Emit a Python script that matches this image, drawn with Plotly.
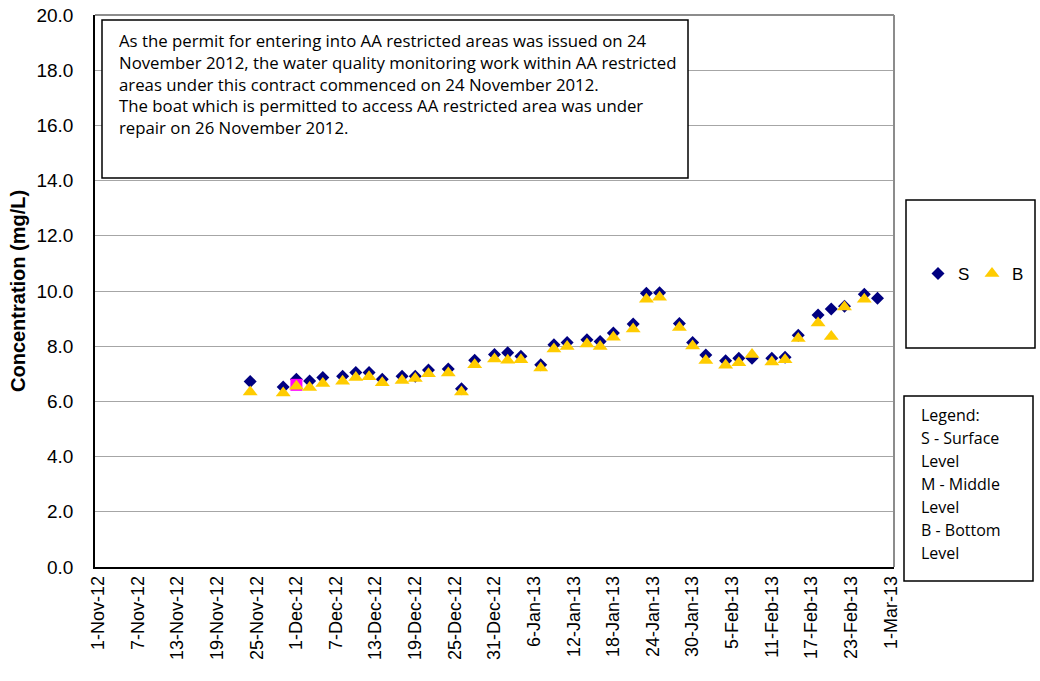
import plotly.graph_objects as go

# ---------------- data ----------------
dates = ["2012-11-24", "2012-11-29", "2012-12-01", "2012-12-03", "2012-12-05",
         "2012-12-08", "2012-12-10", "2012-12-12", "2012-12-14", "2012-12-17",
         "2012-12-19", "2012-12-21", "2012-12-24", "2012-12-26", "2012-12-28",
         "2012-12-31", "2013-01-02", "2013-01-04", "2013-01-07", "2013-01-09",
         "2013-01-11", "2013-01-14", "2013-01-16", "2013-01-18", "2013-01-21",
         "2013-01-23", "2013-01-25", "2013-01-28", "2013-01-30", "2013-02-01",
         "2013-02-04", "2013-02-06", "2013-02-08", "2013-02-11", "2013-02-13",
         "2013-02-15", "2013-02-18", "2013-02-20", "2013-02-22", "2013-02-25",
         "2013-02-27"]
surface = [6.72, 6.52, 6.80, 6.74, 6.87, 6.91, 7.05, 7.05, 6.80, 6.91,
           6.91, 7.14, 7.17, 6.46, 7.49, 7.70, 7.76, 7.64, 7.33, 8.05,
           8.13, 8.23, 8.17, 8.48, 8.80, 9.92, 9.94, 8.82, 8.13, 7.68,
           7.47, 7.56, 7.56, 7.56, 7.60, 8.40, 9.13, 9.35, 9.45, 9.88,
           9.74]
bottom = [6.34, 6.30, 6.55, 6.50, 6.65, 6.73, 6.87, 6.89, 6.68, 6.76,
          6.83, 7.00, 7.03, 6.34, 7.33, 7.54, 7.49, 7.51, 7.21, 7.90,
          7.99, 8.08, 7.99, 8.32, 8.62, 9.70, 9.77, 8.68, 8.01, 7.48,
          7.31, 7.40, 7.70, 7.43, 7.51, 8.28, 8.84, 8.35, 9.42, 9.70,
          None]
middle_dates = ["2012-12-01"]
middle = [6.60]

note_lines = [
    "As the permit for entering into AA restricted areas was issued on 24",
    "November 2012, the water quality monitoring work within AA restricted",
    "areas under this contract commenced on 24 November 2012.",
    "The boat which is permitted to access AA restricted area was under",
    "repair on 26 November 2012.",
]
legend_lines = ["Legend:", "S - Surface", "Level", "M - Middle", "Level",
                "B - Bottom", "Level"]

# ---------------- layout helpers (pixel -> paper) ----------------
W, H = 1040, 681
L, R, T, B = 95, 894, 15, 567


def px(x):
    return (x - L) / (R - L)


def py(y):
    return (B - y) / (B - T)


fig = go.Figure()
fig.add_trace(go.Scatter(
    x=dates, y=surface, mode="markers", name="S",
    marker=dict(symbol="diamond", size=10, color="#000080",
                line=dict(width=0))))
fig.add_trace(go.Scatter(
    x=middle_dates, y=middle, mode="markers", name="M", showlegend=False,
    marker=dict(symbol="square", size=12, color="#FF00FF",
                line=dict(width=0))))
fig.add_trace(go.Scatter(
    x=dates, y=bottom, mode="markers", name="B",
    marker=dict(symbol="triangle-up", size=13, color="#FFCC00",
                line=dict(width=0))))

shapes = [
    # grey top and right frame of plot area
    dict(type="line", xref="paper", yref="paper", x0=0, x1=1, y0=1, y1=1,
         line=dict(color="#8C8C8C", width=2)),
    dict(type="line", xref="paper", yref="paper", x0=1, x1=1, y0=0, y1=1,
         line=dict(color="#8C8C8C", width=2)),
    # note box
    dict(type="rect", xref="paper", yref="paper",
         x0=px(102), x1=px(688), y0=py(178), y1=py(20),
         line=dict(color="black", width=1.5), fillcolor="white", layer="above"),
    # legend box
    dict(type="rect", xref="paper", yref="paper",
         x0=px(906), x1=px(1035), y0=py(348), y1=py(200),
         line=dict(color="black", width=1.5)),
    # legend explanation box
    dict(type="rect", xref="paper", yref="paper",
         x0=px(904), x1=px(1033), y0=py(581), y1=py(396),
         line=dict(color="black", width=1.5)),
]

annotations = []
for i, t in enumerate(note_lines):
    annotations.append(dict(
        text=t, xref="paper", yref="paper", x=px(117), y=py(41 + 21.5 * i),
        xanchor="left", yanchor="middle", showarrow=False,
        font=dict(family="Open Sans", size=16.8, color="black")))
for i, t in enumerate(legend_lines):
    annotations.append(dict(
        text=t, xref="paper", yref="paper", x=px(919), y=py(415 + 23 * i),
        xanchor="left", yanchor="middle", showarrow=False,
        font=dict(family="Open Sans", size=16, color="black")))
annotations.append(dict(
    text="<b>Concentration (mg/L)</b>", xref="paper", yref="paper",
    x=px(18), y=py(291), xanchor="center", yanchor="middle",
    textangle=-90, showarrow=False,
    font=dict(family="Liberation Sans, Arial", size=20, color="black")))

fig.update_layout(
    width=W, height=H,
    margin=dict(l=L, r=W - R, t=T, b=H - B, autoexpand=False),
    paper_bgcolor="white", plot_bgcolor="white",
    font=dict(family="Liberation Sans, Arial", color="black"),
    shapes=shapes, annotations=annotations,
    showlegend=True,
    legend=dict(orientation="h", x=px(918), y=py(274), xanchor="left",
                yanchor="middle", bgcolor="rgba(0,0,0,0)",
                font=dict(family="Liberation Sans, Arial", size=17),
                entrywidth=9, itemwidth=30),
    xaxis=dict(
        type="date", range=["2012-10-31 12:00", "2013-03-01 12:00"],
        tick0="2012-11-01", dtick=6 * 86400000, tickformat="%-d-%b-%y",
        tickangle=-90, showgrid=False, zeroline=False, automargin=False,
        showline=True, linecolor="black", linewidth=1.5, ticks="",
        tickfont=dict(size=18, family="Liberation Sans, Arial")),
    yaxis=dict(
        range=[0, 20], dtick=2, tickformat=".1f", automargin=False,
        showgrid=True, gridcolor="#A6A6A6", gridwidth=1.3, zeroline=False,
        showline=True, linecolor="black", linewidth=1.5, ticks="",
        ticklabelstandoff=16,
        tickfont=dict(size=19, family="Liberation Sans, Arial")),
)

fig.write_html(
    "out.html",
    config={"displayModeBar": False},
    post_script="document.body.style.margin='0';document.body.style.padding='0';",
)
